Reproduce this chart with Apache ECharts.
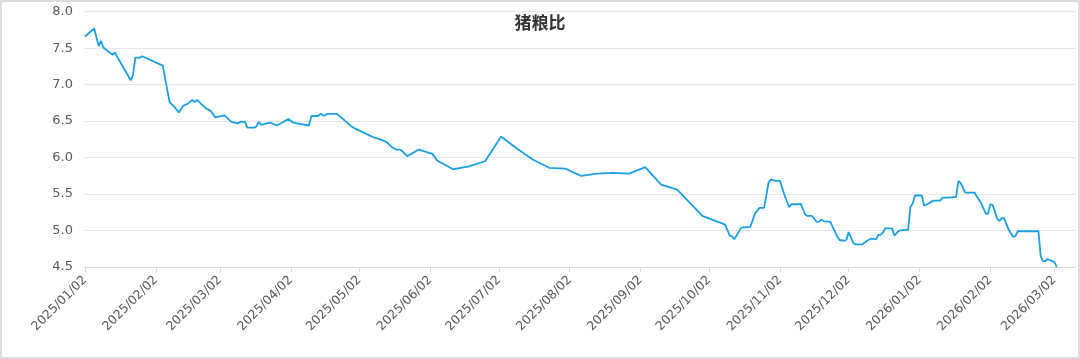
<!DOCTYPE html>
<html><head><meta charset="utf-8">
<script src="https://cdn.jsdelivr.net/npm/echarts@6/dist/echarts.min.js"></script>
<style>html,body{margin:0;padding:0;background:#fff}#c{width:1080px;height:359px}</style>
</head><body><div id="c"></div>
<script>
const chartTitle = '猪粮比';
const dates = [
 '2025-01-02','2025-01-06','2025-01-08','2025-01-09','2025-01-10','2025-01-14','2025-01-15','2025-01-22','2025-01-23','2025-01-24',
 '2025-01-26','2025-01-27','2025-02-05','2025-02-08','2025-02-10','2025-02-12','2025-02-14','2025-02-16','2025-02-18','2025-02-19',
 '2025-02-20','2025-02-24','2025-02-26','2025-02-28','2025-03-04','2025-03-07','2025-03-10','2025-03-11','2025-03-13','2025-03-14',
 '2025-03-17','2025-03-18','2025-03-19','2025-03-20','2025-03-24','2025-03-27','2025-04-01','2025-04-03','2025-04-10','2025-04-11',
 '2025-04-14','2025-04-15','2025-04-16','2025-04-17','2025-04-18','2025-04-22','2025-04-23','2025-04-27','2025-04-28','2025-04-30',
 '2025-05-08','2025-05-12','2025-05-14','2025-05-16','2025-05-18','2025-05-20','2025-05-21','2025-05-23','2025-05-28','2025-06-03',
 '2025-06-05','2025-06-12','2025-06-19','2025-06-26','2025-07-03','2025-07-10','2025-07-17','2025-07-24','2025-07-31','2025-08-07',
 '2025-08-14','2025-08-21','2025-08-28','2025-09-04','2025-09-11','2025-09-18','2025-09-29','2025-10-09','2025-10-11','2025-10-12',
 '2025-10-13','2025-10-16','2025-10-20','2025-10-22','2025-10-24','2025-10-26','2025-10-27','2025-10-28','2025-10-29','2025-10-31',
 '2025-11-02','2025-11-04','2025-11-06','2025-11-07','2025-11-10','2025-11-11','2025-11-13','2025-11-14','2025-11-16','2025-11-18',
 '2025-11-19','2025-11-20','2025-11-21','2025-11-24','2025-11-25','2025-11-27','2025-11-28','2025-11-30','2025-12-01','2025-12-02',
 '2025-12-04','2025-12-05','2025-12-08','2025-12-10','2025-12-12','2025-12-14','2025-12-15','2025-12-16','2025-12-17','2025-12-18',
 '2025-12-21','2025-12-22','2025-12-24','2025-12-26','2025-12-28','2025-12-29','2025-12-30','2025-12-31','2026-01-03','2026-01-04',
 '2026-01-06','2026-01-08','2026-01-11','2026-01-12','2026-01-15','2026-01-18','2026-01-19','2026-01-20','2026-01-22','2026-01-26',
 '2026-01-29','2026-01-31','2026-02-01','2026-02-02','2026-02-03','2026-02-05','2026-02-06','2026-02-07','2026-02-08','2026-02-10',
 '2026-02-12','2026-02-13','2026-02-14','2026-02-23','2026-02-24','2026-02-25','2026-02-26','2026-02-27','2026-03-01','2026-03-02',
 '2026-03-03'
];
const values = [
 7.66,7.77,7.53,7.60,7.51,7.41,7.44,7.06,7.13,7.37,
 7.37,7.39,7.26,6.76,6.70,6.62,6.71,6.74,6.79,6.76,
 6.79,6.67,6.64,6.55,6.58,6.49,6.47,6.49,6.49,6.41,
 6.41,6.43,6.49,6.45,6.48,6.44,6.53,6.48,6.44,6.57,
 6.57,6.60,6.58,6.58,6.60,6.60,6.58,6.47,6.44,6.40,
 6.28,6.24,6.21,6.15,6.11,6.11,6.08,6.02,6.11,6.05,
 5.96,5.84,5.88,5.95,6.29,6.12,5.97,5.86,5.85,5.75,
 5.78,5.79,5.78,5.87,5.63,5.56,5.20,5.08,4.93,4.92,
 4.88,5.04,5.05,5.23,5.31,5.31,5.48,5.66,5.70,5.68,
 5.68,5.48,5.32,5.36,5.36,5.37,5.22,5.20,5.20,5.12,
 5.12,5.15,5.13,5.12,5.05,4.92,4.87,4.86,4.87,4.98,
 4.83,4.81,4.81,4.86,4.89,4.88,4.94,4.94,4.97,5.03,
 5.03,4.93,5.00,5.01,5.01,5.32,5.37,5.48,5.48,5.34,
 5.37,5.41,5.41,5.45,5.45,5.46,5.68,5.65,5.52,5.52,
 5.37,5.23,5.23,5.36,5.35,5.16,5.13,5.17,5.17,5.01,
 4.91,4.93,4.99,4.99,4.65,4.58,4.58,4.61,4.58,4.57,
 4.50
];
const tickLabels = ['2025/01/02','2025/02/02','2025/03/02','2025/04/02','2025/05/02','2025/06/02','2025/07/02',
 '2025/08/02','2025/09/02','2025/10/02','2025/11/02','2025/12/02','2026/01/02','2026/02/02','2026/03/02'];
const axisStart = '2025/01/02';
const axisEnd = '2026/03/11';
const yMin = 4.5, yMax = 8.0, yStep = 0.5;

function ts(s){ const p = s.split(/[-\/]/).map(Number); return Date.UTC(p[0], p[1]-1, p[2]); }
const t0 = ts(axisStart);
function dayNo(s){ return Math.round((ts(s) - t0) / 86400000); }
const tickDays = tickLabels.map(dayNo);
const labelMap = {}; tickLabels.forEach((l,i)=>{ labelMap[tickDays[i]] = l; });
const seriesData = dates.map((d,i)=>[dayNo(d), values[i]]);

const chart = echarts.init(document.getElementById('c'), null, {renderer:'canvas'});
chart.setOption({
  animation:false,
  backgroundColor:'#fff',
  title:{text:chartTitle,left:'center',top:9,textStyle:{fontSize:17,fontWeight:'bold',color:'#333',fontFamily:'Noto Sans CJK SC'}},
  graphic:[{type:'rect',shape:{x:1,y:1,width:1078,height:357},style:{fill:'none',stroke:'#dcdcdc',lineWidth:2},silent:true}],
  grid:{left:85,right:5,top:11.7,bottom:92,containLabel:false},
  xAxis:{type:'value',min:0,max:dayNo(axisEnd),
    axisLine:{show:true,onZero:false,lineStyle:{color:'#d9d9d9',width:1}},
    axisTick:{show:true,customValues:tickDays,length:5,lineStyle:{color:'#d9d9d9'}},
    axisLabel:{customValues:tickDays,rotate:45,margin:11,fontSize:12.5,color:'#595959',fontFamily:'DejaVu Sans',
      formatter:(v)=>labelMap[v]||''},
    splitLine:{show:false}},
  yAxis:{type:'value',min:yMin,max:yMax,interval:yStep,
    axisLine:{show:false},axisTick:{show:false},
    axisLabel:{fontSize:13,color:'#595959',margin:12,fontFamily:'DejaVu Sans',formatter:(v)=>v.toFixed(1)},
    splitLine:{lineStyle:{color:'#e6e6e6',width:1}}},
  series:[{type:'line',data:seriesData,showSymbol:false,symbol:'none',
    lineStyle:{color:'#1b9fe3',width:1.8},itemStyle:{color:'#1b9fe3'},clip:true}]
});
</script></body></html>
